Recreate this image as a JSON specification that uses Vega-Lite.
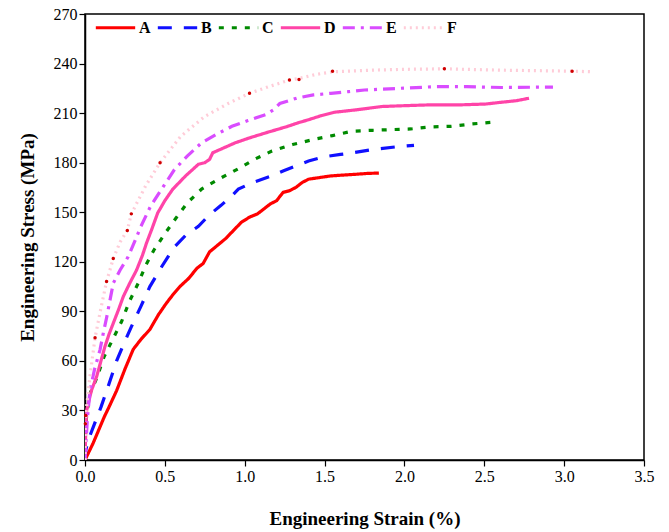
{
  "$schema": "https://vega.github.io/schema/vega-lite/v6.json",
  "width": 559,
  "height": 446,
  "autosize": {"type": "none"},
  "padding": {"left": 85, "top": 14, "right": 25, "bottom": 72},
  "background": "white",
  "config": {
    "view": {"stroke": "black", "strokeWidth": 1.5},
    "font": "Liberation Serif",
    "axis": {
      "domainColor": "black", "domainWidth": 1.5, "tickColor": "black", "tickWidth": 1.2,
      "labelFont": "Liberation Serif", "labelFontSize": 16, "labelColor": "black",
      "titleFont": "Liberation Serif", "titleFontSize": 19, "titleFontWeight": "bold", "titleColor": "black",
      "grid": false
    }
  },
  "datasets": {
    "curves": [
      {"s":"A","x":0,"y":0},{"s":"A","x":0.01,"y":2},{"s":"A","x":0.05,"y":10},{"s":"A","x":0.094,"y":20},{"s":"A","x":0.12,"y":26},{"s":"A","x":0.15,"y":32},{"s":"A","x":0.198,"y":42},{"s":"A","x":0.25,"y":55},{"s":"A","x":0.302,"y":67},{"s":"A","x":0.35,"y":73},{"s":"A","x":0.406,"y":79},{"s":"A","x":0.46,"y":88},{"s":"A","x":0.51,"y":95},{"s":"A","x":0.55,"y":100},{"s":"A","x":0.594,"y":105},{"s":"A","x":0.65,"y":110},{"s":"A","x":0.7,"y":116},{"s":"A","x":0.74,"y":119},{"s":"A","x":0.78,"y":126},{"s":"A","x":0.83,"y":130},{"s":"A","x":0.88,"y":134},{"s":"A","x":0.93,"y":139},{"s":"A","x":0.98,"y":144},{"s":"A","x":1.03,"y":147},{"s":"A","x":1.08,"y":149},{"s":"A","x":1.12,"y":152},{"s":"A","x":1.16,"y":155},{"s":"A","x":1.2,"y":157},{"s":"A","x":1.24,"y":162},{"s":"A","x":1.28,"y":163},{"s":"A","x":1.32,"y":165},{"s":"A","x":1.36,"y":168},{"s":"A","x":1.4,"y":170},{"s":"A","x":1.47,"y":171},{"s":"A","x":1.54,"y":172},{"s":"A","x":1.62,"y":172.5},{"s":"A","x":1.7,"y":173},{"s":"A","x":1.77,"y":173.5},{"s":"A","x":1.84,"y":173.7},
      {"s":"B","x":0,"y":0},{"s":"B","x":0.005,"y":6},{"s":"B","x":0.02,"y":12},{"s":"B","x":0.06,"y":22},{"s":"B","x":0.1,"y":32},{"s":"B","x":0.15,"y":46},{"s":"B","x":0.198,"y":60},{"s":"B","x":0.25,"y":72},{"s":"B","x":0.292,"y":81},{"s":"B","x":0.35,"y":93},{"s":"B","x":0.406,"y":105},{"s":"B","x":0.48,"y":117},{"s":"B","x":0.56,"y":129},{"s":"B","x":0.63,"y":136},{"s":"B","x":0.71,"y":141.5},{"s":"B","x":0.78,"y":148.5},{"s":"B","x":0.85,"y":154},{"s":"B","x":0.92,"y":160},{"s":"B","x":0.96,"y":164},{"s":"B","x":1.05,"y":168},{"s":"B","x":1.17,"y":172},{"s":"B","x":1.24,"y":175},{"s":"B","x":1.32,"y":178},{"s":"B","x":1.4,"y":181},{"s":"B","x":1.5,"y":183.6},{"s":"B","x":1.6,"y":185},{"s":"B","x":1.68,"y":186},{"s":"B","x":1.8,"y":188},{"s":"B","x":1.96,"y":189.7},{"s":"B","x":2.06,"y":190.5},
      {"s":"C","x":0,"y":0},{"s":"C","x":0.003,"y":15},{"s":"C","x":0.01,"y":27},{"s":"C","x":0.03,"y":40},{"s":"C","x":0.073,"y":49.5},{"s":"C","x":0.12,"y":62.6},{"s":"C","x":0.177,"y":73.7},{"s":"C","x":0.229,"y":83.8},{"s":"C","x":0.277,"y":95.8},{"s":"C","x":0.333,"y":107},{"s":"C","x":0.381,"y":118},{"s":"C","x":0.431,"y":127},{"s":"C","x":0.5,"y":137},{"s":"C","x":0.57,"y":146.5},{"s":"C","x":0.64,"y":155.6},{"s":"C","x":0.73,"y":164},{"s":"C","x":0.85,"y":170.7},{"s":"C","x":0.97,"y":176.8},{"s":"C","x":1.06,"y":182},{"s":"C","x":1.17,"y":187},{"s":"C","x":1.3,"y":191},{"s":"C","x":1.43,"y":194},{"s":"C","x":1.55,"y":196.4},{"s":"C","x":1.67,"y":199},{"s":"C","x":1.8,"y":199.6},{"s":"C","x":1.92,"y":200},{"s":"C","x":2.04,"y":200.4},{"s":"C","x":2.16,"y":201.6},{"s":"C","x":2.29,"y":202},{"s":"C","x":2.42,"y":203.4},{"s":"C","x":2.55,"y":204.5},
      {"s":"D","x":0,"y":0},{"s":"D","x":0.004,"y":15},{"s":"D","x":0.01,"y":30},{"s":"D","x":0.04,"y":42},{"s":"D","x":0.073,"y":50.5},{"s":"D","x":0.1,"y":60},{"s":"D","x":0.125,"y":68.7},{"s":"D","x":0.15,"y":76},{"s":"D","x":0.177,"y":82.8},{"s":"D","x":0.21,"y":91},{"s":"D","x":0.24,"y":99},{"s":"D","x":0.28,"y":107},{"s":"D","x":0.323,"y":115},{"s":"D","x":0.36,"y":124},{"s":"D","x":0.385,"y":131.3},{"s":"D","x":0.417,"y":139.4},{"s":"D","x":0.455,"y":149.5},{"s":"D","x":0.5,"y":157},{"s":"D","x":0.55,"y":164},{"s":"D","x":0.63,"y":172},{"s":"D","x":0.71,"y":179},{"s":"D","x":0.75,"y":180},{"s":"D","x":0.78,"y":182},{"s":"D","x":0.8,"y":186},{"s":"D","x":0.87,"y":189},{"s":"D","x":0.94,"y":192},{"s":"D","x":1.03,"y":195},{"s":"D","x":1.13,"y":198},{"s":"D","x":1.2,"y":200},{"s":"D","x":1.27,"y":202},{"s":"D","x":1.33,"y":204},{"s":"D","x":1.4,"y":206},{"s":"D","x":1.48,"y":208.5},{"s":"D","x":1.56,"y":210.5},{"s":"D","x":1.7,"y":212},{"s":"D","x":1.86,"y":214},{"s":"D","x":2.0,"y":214.5},{"s":"D","x":2.16,"y":215},{"s":"D","x":2.35,"y":215},{"s":"D","x":2.51,"y":215.5},{"s":"D","x":2.6,"y":216.5},{"s":"D","x":2.7,"y":217.5},{"s":"D","x":2.78,"y":219},
      {"s":"E","x":0,"y":0},{"s":"E","x":0.005,"y":9},{"s":"E","x":0.015,"y":25},{"s":"E","x":0.031,"y":42},{"s":"E","x":0.06,"y":55},{"s":"E","x":0.094,"y":66.7},{"s":"E","x":0.115,"y":77},{"s":"E","x":0.135,"y":86},{"s":"E","x":0.155,"y":96},{"s":"E","x":0.177,"y":107},{"s":"E","x":0.22,"y":115},{"s":"E","x":0.27,"y":123},{"s":"E","x":0.31,"y":132},{"s":"E","x":0.35,"y":141.4},{"s":"E","x":0.41,"y":153.5},{"s":"E","x":0.47,"y":162.6},{"s":"E","x":0.56,"y":175.8},{"s":"E","x":0.64,"y":184},{"s":"E","x":0.73,"y":192},{"s":"E","x":0.82,"y":197},{"s":"E","x":0.92,"y":202},{"s":"E","x":1.02,"y":205.5},{"s":"E","x":1.13,"y":209},{"s":"E","x":1.18,"y":212},{"s":"E","x":1.22,"y":215.8},{"s":"E","x":1.33,"y":219.2},{"s":"E","x":1.43,"y":221},{"s":"E","x":1.54,"y":222},{"s":"E","x":1.65,"y":223},{"s":"E","x":1.75,"y":224},{"s":"E","x":1.97,"y":225},{"s":"E","x":2.19,"y":226},{"s":"E","x":2.39,"y":226},{"s":"E","x":2.61,"y":225.5},{"s":"E","x":2.83,"y":225.7},{"s":"E","x":2.93,"y":225.7},
      {"s":"F","x":0,"y":0},{"s":"F","x":0.002,"y":22},{"s":"F","x":0.004,"y":27},{"s":"F","x":0.03,"y":50},{"s":"F","x":0.063,"y":74},{"s":"F","x":0.1,"y":92},{"s":"F","x":0.135,"y":108},{"s":"F","x":0.177,"y":122},{"s":"F","x":0.22,"y":132},{"s":"F","x":0.265,"y":139},{"s":"F","x":0.29,"y":149},{"s":"F","x":0.38,"y":166},{"s":"F","x":0.47,"y":180},{"s":"F","x":0.6,"y":196},{"s":"F","x":0.75,"y":208},{"s":"F","x":0.9,"y":216},{"s":"F","x":1.03,"y":222},{"s":"F","x":1.15,"y":226},{"s":"F","x":1.28,"y":230},{"s":"F","x":1.34,"y":231},{"s":"F","x":1.45,"y":233.5},{"s":"F","x":1.55,"y":235},{"s":"F","x":1.8,"y":236},{"s":"F","x":2.0,"y":236.5},{"s":"F","x":2.25,"y":236.8},{"s":"F","x":2.6,"y":236},{"s":"F","x":3.05,"y":235.4},{"s":"F","x":3.18,"y":235}
    ],
    "fdots": [
      {"x":0.002,"y":22},{"x":0.004,"y":27},{"x":0.063,"y":74},{"x":0.135,"y":108},{"x":0.177,"y":122},{"x":0.265,"y":139},{"x":0.29,"y":149},{"x":0.47,"y":180},{"x":1.03,"y":222},{"x":1.28,"y":230},{"x":1.34,"y":230.3},{"x":1.55,"y":235.4},{"x":2.25,"y":236.8},{"x":3.05,"y":235.4}
    ]
  },
  "layer": [
    {
      "data": {"name": "curves"},
      "mark": {"type": "line", "strokeWidth": 3.2, "clip": true},
      "encoding": {
        "x": {"field": "x", "type": "quantitative",
          "scale": {"domain": [0, 3.5], "nice": false, "zero": false},
          "axis": {"title": "Engineering Strain (%)", "titlePadding": 25,
            "values": [0,0.25,0.5,0.75,1,1.25,1.5,1.75,2,2.25,2.5,2.75,3,3.25,3.5],
            "labelExpr": "datum.value % 0.5 === 0 ? format(datum.value, '.1f') : ''",
            "tickSize": {"condition": {"test": "datum.value % 0.5 === 0", "value": 6}, "value": 3},
            "labelPadding": 2, "labelFlush": false}},
        "y": {"field": "y", "type": "quantitative",
          "scale": {"domain": [0, 270], "nice": false},
          "axis": {"title": "Engineering Stress (MPa)", "titlePadding": 16,
            "values": [0,15,30,45,60,75,90,105,120,135,150,165,180,195,210,225,240,255,270],
            "labelExpr": "datum.value % 30 === 0 ? datum.value : ''",
            "tickSize": {"condition": {"test": "datum.value % 30 === 0", "value": 6}, "value": 3},
            "labelPadding": 2, "labelFlush": false}},
        "color": {"field": "s", "type": "nominal",
          "scale": {"domain": ["A","B","C","D","E","F"], "range": ["#ff0000","#1010ff","#008a00","#ff44a8","#d94cff","#ffccd8"]},
          "legend": {"title": null, "orient": "none", "legendX": 9, "legendY": -8, "direction": "horizontal",
            "symbolType": "stroke", "symbolSize": 1550, "symbolStrokeWidth": 3,
            "labelFont": "Liberation Serif", "labelFontSize": 16, "labelFontWeight": "bold", "labelColor": "black",
            "labelOffset": 2, "columnPadding": 0}},
        "strokeDash": {"field": "s", "type": "nominal",
          "scale": {"domain": ["A","B","C","D","E","F"], "range": [[1,0],[14,12],[5,8],[1,0],[12,6,3,6],[2,4]]},
          "legend": null}
      }
    },
    {
      "data": {"name": "fdots"},
      "mark": {"type": "circle", "color": "#d00000", "size": 12, "opacity": 1},
      "encoding": {
        "x": {"field": "x", "type": "quantitative"},
        "y": {"field": "y", "type": "quantitative"}
      }
    }
  ]
}
